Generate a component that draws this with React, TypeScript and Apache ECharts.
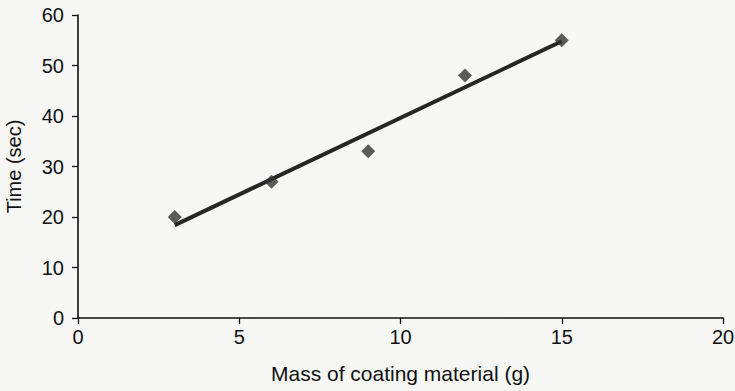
import React, { useEffect, useRef } from "react";
import * as echarts from "echarts";

const massValues = [3, 6, 9, 12, 15];
const timeValues = [20, 27, 33, 48, 55];
const trendX = [3, 15];
const trendY = [18.4, 54.8];
const xTicks = [0, 5, 10, 15, 20];
const yTicks = [0, 10, 20, 30, 40, 50, 60];
const xName = "Mass of coating material (g)";
const yName = "Time (sec)";

export default function App() {
  const ref = useRef<HTMLDivElement>(null);
  useEffect(() => {
    if (!ref.current) return;
    const chart = echarts.init(ref.current, undefined, { renderer: "svg" });
    const font = "'Liberation Sans', Arial, Helvetica, sans-serif";
    chart.setOption({
      animation: false,
      backgroundColor: "#f7f7f5",
      grid: { left: 78, right: 12, top: 15, bottom: 73, containLabel: false, outerBoundsMode: "none" },
      xAxis: {
        type: "value",
        min: xTicks[0],
        max: xTicks[xTicks.length - 1],
        interval: 5,
        name: xName,
        nameLocation: "middle",
        nameGap: 45,
        nameTextStyle: { fontFamily: font, fontSize: 21, color: "#111" },
        axisLine: { show: true, lineStyle: { color: "#111", width: 1.6 } },
        axisTick: { show: true, inside: false, length: 6, lineStyle: { color: "#111", width: 1.3 } },
        axisLabel: { fontFamily: font, fontSize: 20, color: "#111", margin: 9 },
        splitLine: { show: false },
      },
      yAxis: {
        type: "value",
        min: yTicks[0],
        max: yTicks[yTicks.length - 1],
        interval: 10,
        name: yName,
        nameLocation: "middle",
        nameGap: 54,
        nameRotate: 90,
        nameTextStyle: { fontFamily: font, fontSize: 20, color: "#111" },
        axisLine: { show: true, lineStyle: { color: "#111", width: 1.6 } },
        axisTick: { show: true, inside: false, length: 6, lineStyle: { color: "#111", width: 1.3 } },
        axisLabel: { fontFamily: font, fontSize: 20, color: "#111", margin: 14 },
        splitLine: { show: false },
      },
      series: [
        {
          type: "line",
          data: trendX.map((x, i) => [x, trendY[i]]),
          symbol: "none",
          lineStyle: { color: "#262626", width: 4 },
          z: 2,
        },
        {
          type: "scatter",
          data: massValues.map((x, i) => [x, timeValues[i]]),
          symbol: "diamond",
          symbolSize: 14,
          itemStyle: { color: "#333" },
          z: 3,
        },
      ],
    });
    return () => chart.dispose();
  }, []);
  return <div ref={ref} style={{ width: 735, height: 391, position: "absolute", left: 0, top: 0 }} />;
}
